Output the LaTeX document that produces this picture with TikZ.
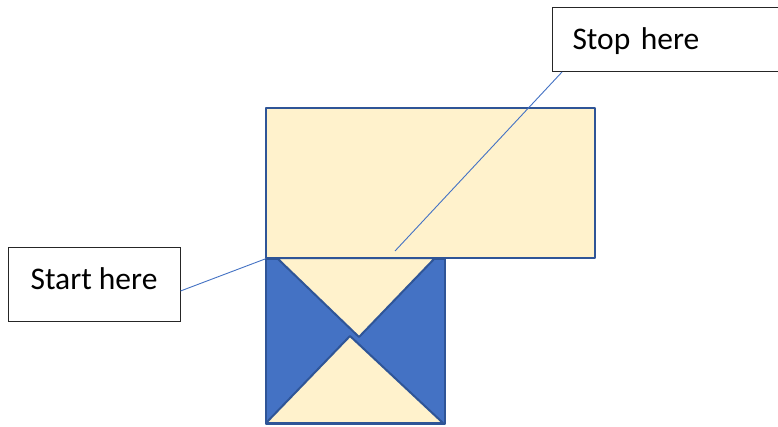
\documentclass[tikz,border=0pt]{standalone}
\usepackage{fontspec}
\setmainfont{Carlito}
\definecolor{paleyellow}{HTML}{FFF2CC}
\definecolor{midblue}{HTML}{4472C4}
\definecolor{edgeblue}{HTML}{2F5597}
\begin{document}
\begin{tikzpicture}[x=1pt,y=-1pt,
  outlined/.style={draw=edgeblue,line width=2pt,line join=round},
  labelbox/.style={draw=black!85,line width=1pt,fill=white,font=\fontsize{31.5}{38}\selectfont,inner sep=0pt},
  leader/.style={draw=midblue,line width=0.9pt}]
  \clip (0,0) rectangle (778,426);
  \fill[white] (0,0) rectangle (778,426);

  % lower square with its two pale triangles
  \node[outlined,fill=midblue,rectangle,anchor=north west,minimum width=179pt,minimum height=165pt] (square) at (265,258) {};
  \filldraw[outlined,fill=paleyellow] (277,258) -- (435,258) -- (359,337) -- cycle;
  \filldraw[outlined,fill=paleyellow] (266,423) -- (443,423) -- (350,336) -- cycle;

  % upper panel
  \node[outlined,fill=paleyellow,rectangle,anchor=north west,minimum width=329pt,minimum height=150pt] (panel) at (265,107) {};

  % callout boxes
  \node[labelbox,minimum width=172pt,minimum height=74pt,text height=10pt,text depth=0pt] (start) at (94,284) {Start here};
  \node[labelbox,anchor=north west,minimum height=64pt,text width=240pt,align=left,text height=20pt,text depth=0pt] (stop) at (552,7) {\hspace*{20pt}Stop here};

  % leaders
  \coordinate (stopend) at (395,251);
  \draw[leader] ([yshift=-7pt]start.east) -- (panel.south west);
  \draw[leader] ([xshift=10pt]stop.south west) -- (stopend);
\end{tikzpicture}
\end{document}
